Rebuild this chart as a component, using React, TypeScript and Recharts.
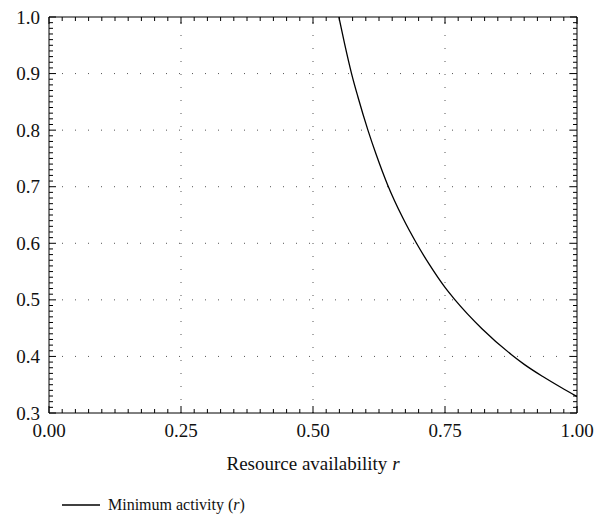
import React from 'react';
import { LineChart, Line, XAxis, YAxis, ReferenceLine } from 'recharts';

// Data
const resourceR = [0.549, 0.56, 0.573, 0.585, 0.604, 0.62, 0.641, 0.67, 0.696, 0.72, 0.75, 0.769, 0.82, 0.876, 0.9, 0.936, 0.97, 1.0];
const minActivity = [1.0, 0.952, 0.9, 0.859, 0.8, 0.756, 0.704, 0.645, 0.6, 0.563, 0.522, 0.5, 0.449, 0.403, 0.386, 0.364, 0.345, 0.329];

const xMajorTicks = [0, 0.25, 0.5, 0.75, 1.0];
const xTickLabels = ['0.00', '0.25', '0.50', '0.75', '1.00'];
const yMajorTicks = [0.3, 0.4, 0.5, 0.6, 0.7, 0.8, 0.9, 1.0];
const yTickLabels = ['0.3', '0.4', '0.5', '0.6', '0.7', '0.8', '0.9', '1.0'];
const xGrid = [0.25, 0.5, 0.75];
const yGrid = [0.4, 0.5, 0.6, 0.7, 0.8, 0.9];

const seriesName = 'Minimum activity';
const xLabel = 'Resource availability';

const data = resourceR.map((r, i) => ({ r, v: minActivity[i] }));

// minor tick positions (axis layout only)
const xAllTicks = Array.from({ length: 41 }, (_, i) => Math.round(i * 25) / 1000);
const yAllTicks = Array.from({ length: 71 }, (_, i) => Math.round(300 + i * 10) / 1000);

const FONT = '"Liberation Serif", "Times New Roman", serif';
const TICK_FS = 19;

const majorIndex = (arr: number[], v: number) => arr.findIndex((m) => Math.abs(m - v) < 1e-6);

const BottomTick = (props: any) => {
  const { x, y, payload } = props;
  const idx = majorIndex(xMajorTicks, payload.value);
  const len = idx >= 0 ? 7 : 4;
  return (
    <g>
      <line x1={x} y1={y} x2={x} y2={y - len} stroke="#000" strokeWidth={1} />
      {idx >= 0 && (
        <text x={x} y={y + 17} textAnchor="middle" dominantBaseline="central" fontFamily={FONT} fontSize={TICK_FS} fill="#111">
          {xTickLabels[idx]}
        </text>
      )}
    </g>
  );
};

const TopTick = (props: any) => {
  const { x, y, payload } = props;
  const idx = majorIndex(xMajorTicks, payload.value);
  const len = idx >= 0 ? 7 : 4;
  return <line x1={x} y1={y} x2={x} y2={y + len} stroke="#000" strokeWidth={1} />;
};

const LeftTick = (props: any) => {
  const { x, y, payload } = props;
  const idx = majorIndex(yMajorTicks, payload.value);
  const len = idx >= 0 ? 7 : 4;
  return (
    <g>
      <line x1={x} y1={y} x2={x + len} y2={y} stroke="#000" strokeWidth={1} />
      {idx >= 0 && (
        <text x={x - 9} y={y} textAnchor="end" dominantBaseline="central" fontFamily={FONT} fontSize={TICK_FS} fill="#111">
          {yTickLabels[idx]}
        </text>
      )}
    </g>
  );
};

const RightTick = (props: any) => {
  const { x, y, payload } = props;
  const idx = majorIndex(yMajorTicks, payload.value);
  const len = idx >= 0 ? 7 : 4;
  return <line x1={x} y1={y} x2={x - len} y2={y} stroke="#000" strokeWidth={1} />;
};

const XAxisTitle = (props: any) => {
  const vb = props.viewBox || { x: 49, y: 413, width: 528, height: 0 };
  return (
    <text x={vb.x + vb.width / 2} y={vb.y + 50} textAnchor="middle" dominantBaseline="central" fontFamily={FONT} fontSize={19} fill="#111">
      {xLabel + ' '}
      <tspan fontStyle="italic">r</tspan>
    </text>
  );
};

const axisCommon = {
  type: 'number' as const,
  interval: 0 as const,
  allowDataOverflow: true,
  tickLine: false,
  tickSize: 0,
  tickMargin: 0,
  axisLine: { stroke: '#000', strokeWidth: 1 },
};

export default function App() {
  return (
    <div style={{ position: 'absolute', left: 0, top: 0, width: 607, height: 522, background: '#fff' }}>
      <LineChart width={607} height={522} data={data} margin={{ top: 16, right: 29, bottom: 108, left: 48 }}>
        <XAxis
          {...axisCommon}
          xAxisId="b"
          dataKey="r"
          domain={[0, 1]}
          ticks={xAllTicks}
          height={1}
          tick={<BottomTick />}
          label={<XAxisTitle />}
        />
        <XAxis
          {...axisCommon}
          xAxisId="t"
          orientation="top"
          dataKey="r"
          domain={[0, 1]}
          ticks={xAllTicks}
          height={1}
          tick={<TopTick />}
        />
        <YAxis
          {...axisCommon}
          yAxisId="l"
          domain={[0.3, 1]}
          ticks={yAllTicks}
          width={1}
          tick={<LeftTick />}
        />
        <YAxis
          {...axisCommon}
          yAxisId="r"
          orientation="right"
          domain={[0.3, 1]}
          ticks={yAllTicks}
          width={1}
          tick={<RightTick />}
        />
        {xGrid.map((g) => (
          <ReferenceLine key={'x' + g} x={g} xAxisId="b" yAxisId="l" stroke="#555" strokeDasharray="1 12" strokeWidth={1} />
        ))}
        {yGrid.map((g) => (
          <ReferenceLine key={'y' + g} y={g} xAxisId="b" yAxisId="l" stroke="#555" strokeDasharray="1 12" strokeWidth={1} />
        ))}
        <Line
          xAxisId="b"
          yAxisId="l"
          type="monotone"
          dataKey="v"
          name={seriesName}
          stroke="#000"
          strokeWidth={1.3}
          dot={false}
          activeDot={false}
          isAnimationActive={false}
        />
      </LineChart>
      <div style={{ position: 'absolute', left: 62, top: 496, display: 'flex', alignItems: 'center', fontFamily: FONT, fontSize: 16, color: '#111', whiteSpace: 'nowrap' }}>
        <svg width={38} height={4} style={{ marginRight: 8 }}>
          <line x1={0} y1={2} x2={38} y2={2} stroke="#000" strokeWidth={1.3} />
        </svg>
        <span>
          {seriesName} (<i>r</i>)
        </span>
      </div>
    </div>
  );
}
